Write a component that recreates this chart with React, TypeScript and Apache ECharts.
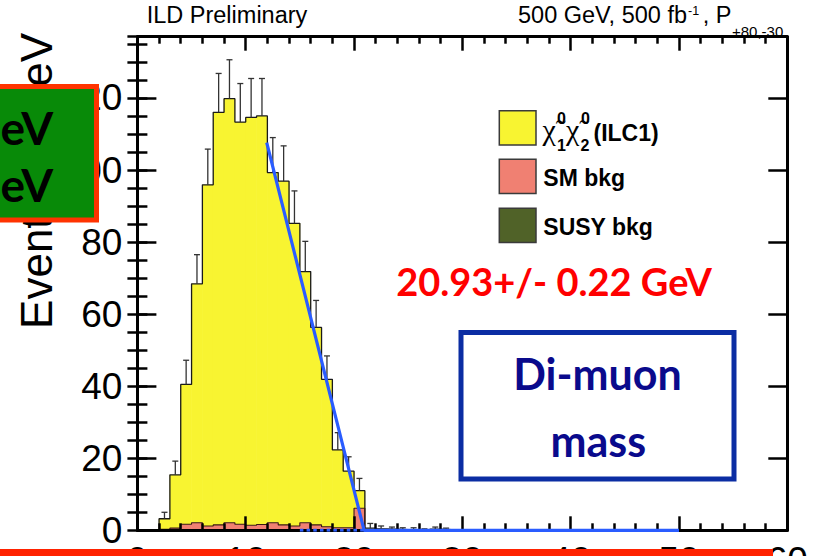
import { useEffect, useRef } from "react";
import * as echarts from "echarts";

// Di-muon invariant mass, 1 GeV bins (lower bin edges in GeV)
const binLowEdges = [2, 3, 4, 5, 6, 7, 8, 9, 10, 11, 12, 13, 14, 15, 16, 17, 18, 19, 20, 21, 22, 23, 24, 25, 26, 27, 28];
const BIN_WIDTH = 1;

// Stacked contributions per bin (events)
const smBkg = [0.3, 0.6, 1.7, 2.1, 1.2, 1.5, 2.1, 1.7, 1.4, 1.6, 2.1, 1.5, 1.2, 2.1, 1.5, 1.0, 0.7, 0.7, 6.1, 0.3, 0.2, 0.1, 0, 0.1, 0, 0.1, 0.1];
const susyBkg = [0, 0, 0, 0, 0, 0, 0, 0, 0, 0, 0, 0, 0, 0, 0, 0, 0, 0, 0, 0, 0, 0, 0, 0, 0, 0, 0];
const signalChi1Chi2 = [2.9, 14.8, 38.8, 66.3, 94.7, 114.5, 117.7, 111.6, 113.2, 113.4, 97.2, 95.4, 84.0, 69.7, 54.8, 40.9, 21.6, 15.7, 4.9, 0.3, 0.2, 0.2, 0.2, 0.1, 0.1, 0.2, 0.1];
// Statistical uncertainty on the stacked total
const statErrors = [1.8, 3.8, 6.7, 8.1, 9.9, 10.8, 10.8, 10.7, 10.8, 10.4, 9.7, 9.8, 9.0, 8.4, 7.5, 6.5, 4.8, 4.0, 3.4, 1.3, 0.8, 0.6, 0.5, 0.5, 0.3, 0.6, 0.4];

// Linear edge fit: falls to zero at the fitted endpoint
const fitEndpoint = 20.93;
const fitLine = [[11.94, 107.6], [fitEndpoint, 0], [50, 0]];
const fitBaseline = [[15.0, 0], [fitEndpoint, 0]];

const X_MIN = 0;
const X_MAX = 60;
const Y_MAX = 137;

const COL_SIGNAL = "#f8f431";
const COL_SM = "#f08072";
const COL_SUSY = "#506228";
const COL_FIT = "#2a5cff";

const ROOT_FONT = "'Liberation Sans', Arial, Helvetica, sans-serif";
const SLIDE_FONT = "Lato, 'Open Sans', sans-serif";

function stepOutline(heights: number[]) {
  const pts: number[][] = [[binLowEdges[0], 0]];
  heights.forEach((h, i) => {
    pts.push([binLowEdges[i], h]);
    pts.push([binLowEdges[i] + BIN_WIDTH, h]);
  });
  pts.push([binLowEdges[binLowEdges.length - 1] + BIN_WIDTH, 0]);
  return pts;
}

function rectRenderer(fill: string) {
  return (_params: any, api: any) => {
    const lo = api.value(0);
    const hi = api.value(1);
    const y0 = api.value(2);
    const y1 = api.value(3);
    if (y1 <= y0) return null;
    const a = api.coord([lo, y1]);
    const b = api.coord([hi, y0]);
    // slight overlap so neighbouring bins render as one continuous fill
    return {
      type: "rect",
      shape: { x: a[0] - 0.3, y: a[1], width: b[0] - a[0] + 0.6, height: b[1] - a[1] },
      style: { fill },
    };
  };
}

function txt(text: string, x: number, y: number, o: any = {}) {
  const align = o.align || "left";
  return {
    type: "text",
    x,
    y,
    rotation: o.rotation || 0,
    z: o.z || 50,
    style: {
      text,
      fill: o.fill || "#000",
      fontSize: o.fontSize || 23,
      fontFamily: o.fontFamily || ROOT_FONT,
      fontWeight: o.fontWeight || "normal",
      align,
      verticalAlign: "middle",
      textAlign: align,
      textVerticalAlign: "middle",
    },
  };
}

export default function App() {
  const ref = useRef<HTMLDivElement>(null);

  useEffect(() => {
    document.body.style.margin = "0";
    const chart = echarts.init(ref.current!, null, { renderer: "svg" });

    const totals = signalChi1Chi2.map((s, i) => s + smBkg[i] + susyBkg[i]);
    const smRects = binLowEdges.map((lo, i) => [lo, lo + BIN_WIDTH, 0, smBkg[i]]);
    const susyRects = binLowEdges.map((lo, i) => [lo, lo + BIN_WIDTH, smBkg[i], smBkg[i] + susyBkg[i]]);
    const sigRects = binLowEdges.map((lo, i) => [lo, lo + BIN_WIDTH, smBkg[i] + susyBkg[i], totals[i]]);
    const errData = binLowEdges.map((lo, i) => [lo + BIN_WIDTH / 2, totals[i], statErrors[i]]);

    const tickStyle = { color: "#000", width: 2.5 };
    const frameLine = { show: true, onZero: false, lineStyle: { color: "#000", width: 3 } };

    const xCommon = {
      type: "value",
      min: X_MIN,
      max: X_MAX,
      interval: 10,
      z: 4,
      axisLine: frameLine,
      axisTick: { show: true, inside: true, length: 14, lineStyle: tickStyle },
      minorTick: { show: true, splitNumber: 5, length: 7, lineStyle: tickStyle },
      splitLine: { show: false },
      minorSplitLine: { show: false },
    };

    const yMajor = {
      type: "value",
      min: 0,
      max: Y_MAX,
      interval: 20,
      z: 4,
      axisLine: frameLine,
      axisTick: { show: true, inside: true, length: 19, lineStyle: tickStyle },
      splitLine: { show: false },
    };
    const yMinor = {
      type: "value",
      min: 0,
      max: Y_MAX,
      interval: 5,
      z: 4,
      axisLine: { show: false },
      axisTick: { show: true, inside: true, length: 10, lineStyle: tickStyle },
      axisLabel: { show: false },
      splitLine: { show: false },
    };

    const legendRows = [
      { top: 110.7, fill: COL_SIGNAL },
      { top: 159.3, fill: COL_SM },
      { top: 208.3, fill: COL_SUSY },
    ];

    const slideBold = { fontWeight: "bold", fontFamily: SLIDE_FONT };
    const chiFont = { fontSize: 30, fontFamily: "'Liberation Serif', 'DejaVu Serif', serif" };

    const option: any = {
      animation: false,
      backgroundColor: "#fff",
      textStyle: { fontFamily: ROOT_FONT },
      grid: {
        left: 137.4,
        right: 31.7,
        top: 36.7,
        bottom: 25.7,
        outerBoundsMode: "none",
        containLabel: false,
      },
      xAxis: [
        {
          ...xCommon,
          position: "bottom",
          axisLabel: {
            show: true,
            color: "#000",
            fontSize: 37,
            fontFamily: ROOT_FONT,
            margin: 12,
            showMinLabel: true,
            showMaxLabel: true,
          },
        },
        { ...xCommon, position: "top", axisLabel: { show: false } },
      ],
      yAxis: [
        {
          ...yMajor,
          position: "left",
          axisLabel: {
            show: true,
            color: "#000",
            fontSize: 37,
            fontFamily: ROOT_FONT,
            margin: 15,
            formatter: (v: number) => (v % 20 === 0 ? String(v) : ""),
          },
        },
        { ...yMajor, position: "right", axisLabel: { show: false } },
        { ...yMinor, position: "left" },
        { ...yMinor, position: "right" },
      ],
      series: [
        {
          type: "custom",
          name: "signal",
          z: 1,
          renderItem: rectRenderer(COL_SIGNAL),
          data: sigRects,
          encode: { x: [0, 1], y: [2, 3] },
          silent: true,
        },
        {
          type: "custom",
          name: "SUSY bkg",
          z: 1,
          renderItem: rectRenderer(COL_SUSY),
          data: susyRects,
          encode: { x: [0, 1], y: [2, 3] },
          silent: true,
        },
        {
          type: "custom",
          name: "SM bkg",
          z: 1,
          renderItem: rectRenderer(COL_SM),
          data: smRects,
          encode: { x: [0, 1], y: [2, 3] },
          silent: true,
        },
        {
          type: "line",
          name: "total outline",
          z: 2,
          data: stepOutline(totals),
          showSymbol: false,
          symbol: "none",
          lineStyle: { color: "#1a1a1a", width: 1.3 },
          silent: true,
        },
        {
          type: "line",
          name: "SM outline",
          z: 2,
          data: stepOutline(smBkg),
          showSymbol: false,
          symbol: "none",
          lineStyle: { color: "#3a1a12", width: 1.1 },
          silent: true,
        },
        {
          type: "custom",
          name: "stat errors",
          z: 3,
          data: errData,
          encode: { x: 0, y: 1 },
          silent: true,
          renderItem: (_p: any, api: any) => {
            const xc = api.value(0);
            const top = api.value(1);
            const err = api.value(2);
            const a = api.coord([xc, top]);
            const b = api.coord([xc, top + err]);
            const st = { stroke: "#333", lineWidth: 1.3 };
            return {
              type: "group",
              children: [
                { type: "line", shape: { x1: a[0], y1: a[1], x2: b[0], y2: b[1] }, style: st },
                { type: "line", shape: { x1: b[0] - 3, y1: b[1], x2: b[0] + 3, y2: b[1] }, style: st },
              ],
            };
          },
        },
        {
          type: "line",
          name: "fit",
          z: 6,
          data: fitLine,
          showSymbol: false,
          symbol: "none",
          lineStyle: { color: COL_FIT, width: 3.2 },
          silent: true,
        },
        {
          type: "line",
          name: "fit baseline",
          z: 6,
          data: fitBaseline,
          showSymbol: false,
          symbol: "none",
          lineStyle: { color: COL_FIT, width: 3, type: [3.5, 3.2] },
          silent: true,
        },
      ],
      graphic: [
        // Header
        txt("ILD Preliminary", 146.7, 15.2, { fontSize: 23.5 }),
        txt("500 GeV, 500 fb", 687, 15.2, { fontSize: 23.5, align: "right" }),
        txt("-1", 688, 10.5, { fontSize: 12.5 }),
        txt(", P", 731.5, 15.2, { fontSize: 23.5, align: "right" }),
        txt("+80,-30", 732, 31, { fontSize: 15 }),
        // Y axis title
        txt("Events / 1 GeV", 36.5, 33, { fontSize: 44, align: "right", rotation: Math.PI / 2 }),
        // Legend
        ...legendRows.map((r) => ({
          type: "rect",
          z: 50,
          shape: { x: 499.3, y: r.top, width: 36.7, height: 34.3 },
          style: { fill: r.fill, stroke: "#3a3a3a", lineWidth: 1.5 },
        })),
        txt("\u03c7\u0303", 542.5, 129.5, chiFont),
        txt("0", 557, 118.5, { fontSize: 16, fontWeight: "bold" }),
        txt("1", 557, 145.5, { fontSize: 16, fontWeight: "bold" }),
        txt("\u03c7\u0303", 566, 129.5, chiFont),
        txt("0", 581, 118.5, { fontSize: 16, fontWeight: "bold" }),
        txt("2", 580.5, 145.5, { fontSize: 16, fontWeight: "bold" }),
        txt("(ILC1)", 593.5, 132.5, { fontSize: 23, fontWeight: "bold" }),
        txt("SM bkg", 543.3, 178.3, { fontSize: 23, fontWeight: "bold" }),
        txt("SUSY bkg", 543.3, 226.7, { fontSize: 23, fontWeight: "bold" }),
        // Fit result
        txt("20.93+/- 0.22 GeV", 554, 281, { ...slideBold, fontSize: 38, fill: "#ff0000", align: "center" }),
        // Observable box
        {
          type: "rect",
          z: 50,
          shape: { x: 461, y: 332.5, width: 273, height: 146.5 },
          style: { fill: "none", stroke: "#0b2da3", lineWidth: 5 },
        },
        txt("Di-muon", 597.5, 373.4, { ...slideBold, fontSize: 43, fill: "#0a0a8c", align: "center" }),
        txt("mass", 598.3, 440, { ...slideBold, fontSize: 43, fill: "#0a0a8c", align: "center" }),
        // Side note box
        {
          type: "rect",
          z: 60,
          shape: { x: -10, y: 86.5, width: 106.5, height: 133.5 },
          style: { fill: "#088a08", stroke: "#ff3300", lineWidth: 5 },
        },
        txt("GeV", 53.3, 127, { ...slideBold, fontSize: 46, align: "right", z: 61 }),
        txt("GeV", 53.3, 184, { ...slideBold, fontSize: 46, align: "right", z: 61 }),
        // Bottom banner
        {
          type: "rect",
          z: 60,
          shape: { x: 0, y: 549, width: 773, height: 10 },
          style: { fill: "#ff2200" },
        },
      ],
    };

    chart.setOption(option);
    return () => chart.dispose();
  }, []);

  return <div ref={ref} style={{ width: 819, height: 556 }} />;
}
